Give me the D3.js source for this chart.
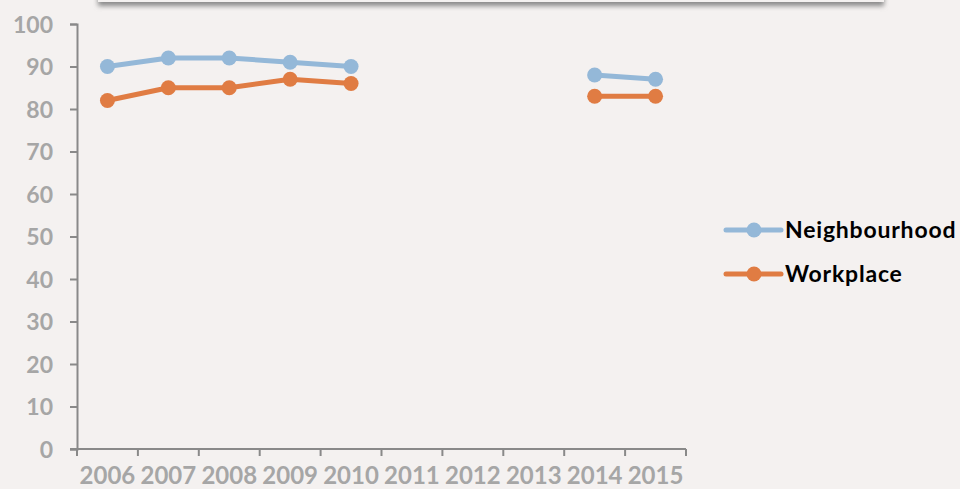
<!DOCTYPE html>
<html>
<head>
<meta charset="utf-8">
<script src="https://cdn.jsdelivr.net/npm/d3@7"></script>
<style>
  body { margin: 0; background: #f4f1f0; }
  svg { display: block; }
</style>
</head>
<body>
<svg width="960" height="489"></svg>
<script>
// chart data
var years = ["2006", "2007", "2008", "2009", "2010", "2011", "2012", "2013", "2014", "2015"];
var neighbourhood = [90, 92, 92, 91, 90, null, null, null, 88, 87];
var workplace = [82, 85, 85, 87, 86, null, null, null, 83, 83];
var yTicks = [0, 10, 20, 30, 40, 50, 60, 70, 80, 90, 100];

var seriesNames = ["Neighbourhood", "Workplace"];
var seriesColors = ["#94b8d8", "#e07c43"];

var svg = d3.select("svg"),
  width = +svg.attr("width"),
  height = +svg.attr("height");

svg.append("rect")
  .attr("width", width)
  .attr("height", height)
  .attr("fill", "#f4f1f0");

// shadow of the title box sitting above the picture
var defs = svg.append("defs");
defs.append("filter")
  .attr("id", "shadow")
  .attr("x", "-10%").attr("y", "-50%")
  .attr("width", "120%").attr("height", "200%")
  .append("feGaussianBlur")
  .attr("stdDeviation", 2.5);

svg.append("rect")
  .attr("x", 98)
  .attr("y", -40)
  .attr("width", 786)
  .attr("height", 46)
  .attr("fill", "#8a8a8a")
  .attr("filter", "url(#shadow)");
svg.append("rect")
  .attr("x", 98)
  .attr("y", -40)
  .attr("width", 786)
  .attr("height", 42)
  .attr("fill", "#f4f1f0");

var x = d3.scaleBand()
  .domain(years)
  .range([77, 686]);

var y = d3.scaleLinear()
  .domain([0, 100])
  .range([449, 24]);

var axisColor = "#898989";
var labelColor = "#a6a6a6";
var font = "Lato, 'Open Sans', sans-serif";

// y axis
var yAxis = svg.append("g")
  .attr("transform", "translate(77,0)")
  .call(d3.axisLeft(y).tickValues(yTicks).tickSize(7).tickPadding(17));
yAxis.select(".domain").attr("stroke", axisColor).attr("stroke-width", 2);
yAxis.selectAll(".tick line").attr("stroke", axisColor).attr("stroke-width", 2);
yAxis.selectAll("text")
  .attr("fill", labelColor)
  .style("font-family", font)
  .style("font-weight", "bold")
  .style("font-size", "23px")
  .attr("dy", "0.36em");

// x axis: ticks sit between categories
var xAxis = svg.append("g")
  .attr("transform", "translate(0,449)");
xAxis.append("line")
  .attr("x1", 70).attr("x2", 686)
  .attr("stroke", axisColor).attr("stroke-width", 2);
var tickPos = years.map(function(d) { return x(d); }).concat([x.range()[1]]);
xAxis.selectAll(".xtick")
  .data(tickPos)
  .enter().append("line")
    .attr("x1", function(d) { return d; })
    .attr("x2", function(d) { return d; })
    .attr("y1", 0).attr("y2", 7)
    .attr("stroke", axisColor).attr("stroke-width", 2);
xAxis.selectAll(".xlabel")
  .data(years)
  .enter().append("text")
    .attr("x", function(d) { return x(d) + x.bandwidth() / 2; })
    .attr("y", 35)
    .attr("text-anchor", "middle")
    .attr("fill", labelColor)
    .style("font-family", font)
    .style("font-weight", "bold")
    .style("font-size", "24px")
    .text(function(d) { return d; });

// lines and markers
var line = d3.line()
  .defined(function(d) { return d != null; })
  .x(function(d, i) { return x(years[i]) + x.bandwidth() / 2; })
  .y(function(d) { return y(d); });

[neighbourhood, workplace].forEach(function(values, s) {
  svg.append("path")
    .datum(values)
    .attr("fill", "none")
    .attr("stroke", seriesColors[s])
    .attr("stroke-width", 5)
    .attr("stroke-linejoin", "round")
    .attr("d", line);

  svg.append("g")
    .selectAll("circle")
    .data(values.map(function(v, i) { return {v: v, year: years[i]}; })
      .filter(function(d) { return d.v != null; }))
    .enter().append("circle")
      .attr("cx", function(d) { return x(d.year) + x.bandwidth() / 2; })
      .attr("cy", function(d) { return y(d.v); })
      .attr("r", 7.5)
      .attr("fill", seriesColors[s]);
});

// legend
var legend = svg.append("g")
  .selectAll("g")
  .data(seriesNames)
  .enter().append("g")
    .attr("transform", function(d, i) { return "translate(726," + (230 + i * 44) + ")"; });
legend.append("line")
  .attr("x1", 0).attr("x2", 55)
  .attr("stroke", function(d, i) { return seriesColors[i]; })
  .attr("stroke-width", 5)
  .attr("stroke-linecap", "round");
legend.append("circle")
  .attr("cx", 28)
  .attr("r", 7.5)
  .attr("fill", function(d, i) { return seriesColors[i]; });
legend.append("text")
  .attr("x", 59)
  .attr("dy", "0.36em")
  .attr("fill", "#000")
  .style("font-family", font)
  .style("font-weight", "bold")
  .style("font-size", "23px")
  .style("letter-spacing", "0.8px")
  .text(function(d) { return d; });
</script>
</body>
</html>
